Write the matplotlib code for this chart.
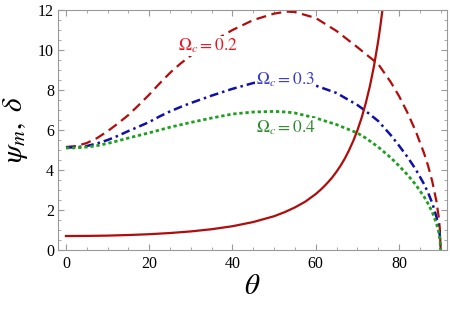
import matplotlib
matplotlib.use("Agg")
import matplotlib.pyplot as plt
from matplotlib.ticker import MultipleLocator

plt.rcParams['font.family'] = 'serif'
plt.rcParams['font.serif'] = ['Liberation Serif', 'DejaVu Serif']
plt.rcParams['mathtext.fontset'] = 'stix'

# delta (solid red)
theta_d = [0, 5, 10, 15, 20, 25, 30, 35, 40, 45, 50, 52.5, 55, 57.5, 60, 61, 62, 63, 64, 65, 66,
           67, 68, 69, 70, 71, 72, 73, 74, 75, 75.5, 76, 76.5]
delta = [0.70, 0.705, 0.72, 0.75, 0.79, 0.85, 0.93, 1.04, 1.19, 1.40, 1.69, 1.89, 2.13, 2.42,
         2.80, 2.98, 3.18, 3.40, 3.64, 3.92, 4.23, 4.58, 4.99, 5.45, 5.98, 6.60, 7.33, 8.19,
         9.21, 10.45, 11.17, 11.97, 12.85]

theta_p = [0, 2.5, 5, 7.5, 10, 12.5, 15, 17.5, 20, 22.5, 25, 27.5, 30, 35, 40, 45, 50, 53, 55,
           60, 65, 70, 72, 75, 78, 80, 82, 84, 86, 87, 88, 89, 89.5, 89.8, 90]
psi_02 = [5.15, 5.2, 5.35, 5.6, 5.94, 6.33, 6.75, 7.25, 7.77, 8.33, 8.86, 9.32, 9.72, 10.4, 11.0,
          11.5, 11.82, 11.92, 11.9, 11.6, 10.95, 10.14, 9.8, 9.3, 8.4, 7.7, 6.88, 5.95, 4.85,
          4.2, 3.42, 2.42, 1.71, 1.08, 0.0]
psi_03 = [5.12, 5.14, 5.2, 5.33, 5.5, 5.71, 5.95, 6.17, 6.4, 6.68, 6.93, 7.15, 7.35, 7.72, 8.06,
          8.35, 8.5, 8.5, 8.46, 8.22, 7.85, 7.25, 6.95, 6.45, 5.75, 5.22, 4.66, 4.04, 3.30, 2.86,
          2.34, 1.65, 1.17, 0.74, 0.0]
psi_04 = [5.1, 5.11, 5.15, 5.22, 5.33, 5.46, 5.6, 5.73, 5.86, 6.0, 6.14, 6.26, 6.38, 6.6, 6.8,
          6.9, 6.93, 6.9, 6.85, 6.6, 6.27, 5.85, 5.6, 5.15, 4.62, 4.21, 3.77, 3.27, 2.67, 2.31,
          1.89, 1.33, 0.94, 0.60, 0.0]

labels = [r'$\Omega_c = 0.2$', r'$\Omega_c = 0.3$', r'$\Omega_c = 0.4$']
label_pos = [(34.1, 10.2), (52.7, 8.5), (52.7, 6.1)]

fig = plt.figure(figsize=(4.5, 3.1), dpi=100)
ax = fig.add_axes([0.129, 0.1935, 0.865, 0.7742])

ax.plot(theta_p, psi_02, color='#b30c0c', lw=1.6, dashes=(4.5, 2.5))
ax.plot(theta_p, psi_03, color='#1010a8', lw=1.8, dashes=(3.5, 1.6, 1.0, 1.6))
ax.plot(theta_p, psi_04, color='#1ea01e', lw=2.0, dashes=(1.2, 1.0))
ax.plot(theta_d, delta, color='#b00c0c', lw=1.6)

colors_lbl = ['#e8141e', '#3a3ad0', '#2e8a2e']
for (x, y), t, c in zip(label_pos, labels, colors_lbl):
    ax.text(x, y, t, color=c, fontsize=12.5, ha='center', va='center',
            bbox=dict(facecolor='white', edgecolor='none', pad=0.5))

ax.set_xlim(-1.9, 91.6)
ax.set_ylim(0, 12)
ax.xaxis.set_major_locator(MultipleLocator(20))
ax.xaxis.set_minor_locator(MultipleLocator(5))
ax.yaxis.set_major_locator(MultipleLocator(2))
ax.yaxis.set_minor_locator(MultipleLocator(0.5))
ax.tick_params(which='both', direction='in', top=True, right=True, color='#999999',
               labelsize=11.5, pad=3)
ax.tick_params(which='major', length=4.5, width=0.8)
ax.tick_params(which='minor', length=2.5, width=0.6)
ax.tick_params(axis='x', pad=4)
for s in ax.spines.values():
    s.set_color('#999999')
    s.set_linewidth(0.8)

ax.set_xlabel(r'$\theta$', fontsize=21, labelpad=2)
ax.set_ylabel(r'$\psi_m,\ \delta$', fontsize=21, labelpad=6)

fig.savefig('out.png', dpi=100)
